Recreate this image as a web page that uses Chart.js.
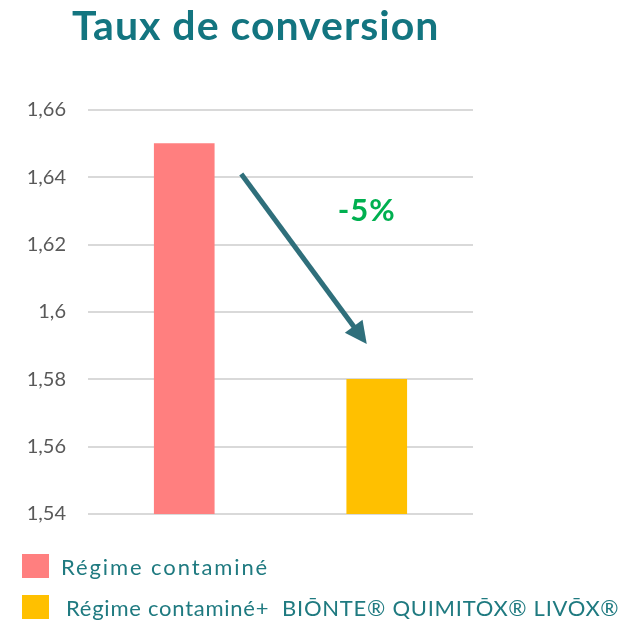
<!DOCTYPE html>
<html>
<head>
<meta charset="utf-8">
<script src="https://cdn.jsdelivr.net/npm/chart.js@4"></script>
<style>
  html, body { margin: 0; padding: 0; background: #fff; }
  #wrap { width: 624px; height: 626px; position: relative; }
</style>
</head>
<body>
<div id="wrap"><canvas id="c"></canvas></div>
<script>
const categories = ['Régime contaminé', 'Régime contaminé+  BIŌNTE® QUIMITŌX® LIVŌX®'];
const values = [1.65, 1.58];
const colors = ['#FF7F7F', '#FFC000'];
const yTicks = ['1,54', '1,56', '1,58', '1,6', '1,62', '1,64', '1,66'];
const titleText = 'Taux de conversion';
const changeText = '-5%';

const teal = '#137580';
const font = 'Lato, "Open Sans", sans-serif';

// title, legend, arrow and percentage drawn on top
const extras = {
  id: 'extras',
  afterDraw(chart) {
    const ctx = chart.ctx;
    const x = chart.scales.x, y = chart.scales.y;
    ctx.save();

    // title
    ctx.fillStyle = teal;
    ctx.font = 'bold 41px ' + font;
    ctx.letterSpacing = '1px';
    ctx.textBaseline = 'alphabetic';
    ctx.textAlign = 'left';
    ctx.fillText(titleText, 72, 40);

    // arrow from first bar to second
    const x0 = x.getPixelForValue(0) + 57, y0 = y.getPixelForValue(1.641);
    const x1 = x.getPixelForValue(1) - 10, y1 = y.getPixelForValue(1.5905);
    const ang = Math.atan2(y1 - y0, x1 - x0);
    const headLen = 22, headW = 11;
    const bx = x1 - headLen * Math.cos(ang), by = y1 - headLen * Math.sin(ang);
    ctx.strokeStyle = '#2F6F7B';
    ctx.fillStyle = '#2F6F7B';
    ctx.lineWidth = 5;
    ctx.beginPath();
    ctx.moveTo(x0, y0);
    ctx.lineTo(bx + 2 * Math.cos(ang), by + 2 * Math.sin(ang));
    ctx.stroke();
    ctx.beginPath();
    ctx.moveTo(x1, y1);
    ctx.lineTo(bx - headW * Math.sin(ang), by + headW * Math.cos(ang));
    ctx.lineTo(bx + headW * Math.sin(ang), by - headW * Math.cos(ang));
    ctx.closePath();
    ctx.fill();

    // percentage
    ctx.fillStyle = '#00B050';
    ctx.font = 'bold 31px ' + font;
    ctx.letterSpacing = '1px';
    ctx.textAlign = 'center';
    ctx.fillText(changeText, x.getPixelForValue(1) - 10, y.getPixelForValue(1.627));

    // legend
    ctx.textAlign = 'left';
    ctx.font = '22px ' + font;
    const rows = [554, 595];
    const textX = [61, 66];
    const spacing = ['1.9px', '0.75px'];
    categories.forEach((c, i) => {
      ctx.fillStyle = colors[i];
      ctx.fillRect(22, rows[i], 27, 24);
      ctx.fillStyle = '#1F7A80';
      ctx.letterSpacing = spacing[i];
      ctx.fillText(c, textX[i], rows[i] + 21);
    });

    ctx.restore();
  }
};

new Chart(document.getElementById('c'), {
  type: 'bar',
  data: {
    labels: categories,
    datasets: [{
      data: values,
      backgroundColor: colors,
      barThickness: 60
    }]
  },
  options: {
    responsive: true,
    maintainAspectRatio: false,
    animation: false,
    layout: { padding: { top: 110, bottom: 112, right: 151, left: 0 } },
    plugins: {
      legend: { display: false },
      tooltip: { enabled: false }
    },
    scales: {
      x: {
        display: false
      },
      y: {
        min: 1.54,
        max: 1.66,
        afterFit(scale) { scale.width = 88; },
        afterBuildTicks(scale) {
          scale.ticks = yTicks.map((t, i) => ({ value: 1.54 + i * 0.02 }));
        },
        ticks: {
          padding: 22,
          color: '#595959',
          font: { family: font, size: 20 },
          callback: (v, i) => yTicks[i]
        },
        grid: { color: '#D9D9D9', lineWidth: 2, drawTicks: false },
        border: { display: false }
      }
    }
  },
  plugins: [extras]
});
</script>
</body>
</html>
